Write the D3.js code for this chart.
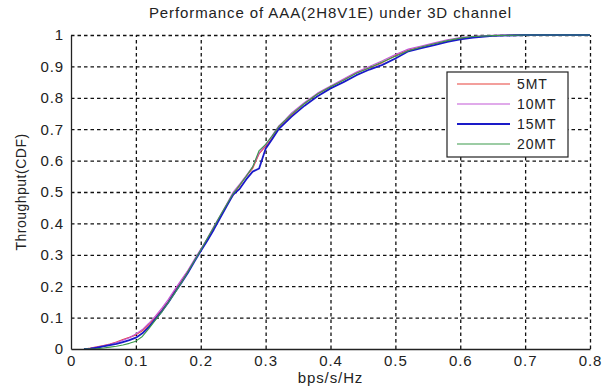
<!DOCTYPE html>
<html>
<head>
<meta charset="utf-8">
<script src="https://cdn.jsdelivr.net/npm/d3@7"></script>
<style>
  body { margin: 0; background: #fff; }
  text { font-family: "Liberation Sans", Arial, sans-serif; letter-spacing: 0.9px; }
  .grid line { stroke: #111; stroke-width: 1.3; stroke-dasharray: 3.5,3; }
  .grid .domain { display: none; }
  .axis text { font-size: 15px; fill: #222; }
  .axis .domain { stroke: #222; stroke-width: 1.3; }
</style>
</head>
<body>
<svg id="chart" width="610" height="386"></svg>
<script>
// x samples (bps/s/Hz) and CDF per series
var xs = [0.02, 0.03, 0.04, 0.05, 0.06, 0.07, 0.08, 0.09, 0.10, 0.11, 0.12, 0.13, 0.14, 0.15, 0.16, 0.17, 0.18, 0.19,
          0.20, 0.21, 0.22, 0.23, 0.24, 0.25, 0.26, 0.27, 0.28, 0.29, 0.30, 0.31, 0.32, 0.33, 0.34, 0.36, 0.38,
          0.40, 0.42, 0.44, 0.46, 0.48, 0.50, 0.52, 0.54, 0.56, 0.58, 0.60, 0.62, 0.65, 0.70, 0.80];

var cdf5 = [0, 0.003, 0.007, 0.011, 0.016, 0.022, 0.03, 0.037, 0.045, 0.058, 0.078, 0.1, 0.125, 0.152, 0.185, 0.215,
            0.248, 0.28, 0.315, 0.35, 0.385, 0.42, 0.46, 0.49, 0.52, 0.55, 0.575, 0.622, 0.645, 0.672, 0.705, 0.725,
            0.745, 0.782, 0.812, 0.835, 0.857, 0.88, 0.895, 0.912, 0.935, 0.952, 0.962, 0.972, 0.98, 0.988, 0.993,
            0.998, 1, 1];
var cdf10 = [0, 0.002, 0.006, 0.01, 0.015, 0.021, 0.028, 0.036, 0.048, 0.062, 0.082, 0.105, 0.13, 0.158, 0.19, 0.22,
             0.25, 0.285, 0.318, 0.352, 0.39, 0.425, 0.462, 0.5, 0.525, 0.552, 0.58, 0.625, 0.65, 0.68, 0.71, 0.73,
             0.752, 0.785, 0.815, 0.838, 0.86, 0.882, 0.9, 0.918, 0.938, 0.955, 0.965, 0.975, 0.985, 0.992, 0.996,
             0.999, 1, 1];
var cdf15 = [0, 0.001, 0.004, 0.008, 0.012, 0.016, 0.022, 0.028, 0.036, 0.05, 0.07, 0.095, 0.12, 0.148, 0.18, 0.21,
             0.242, 0.278, 0.312, 0.345, 0.38, 0.418, 0.455, 0.492, 0.51, 0.54, 0.565, 0.575, 0.638, 0.668, 0.7, 0.72,
             0.74, 0.775, 0.805, 0.83, 0.85, 0.872, 0.89, 0.905, 0.925, 0.948, 0.958, 0.968, 0.978, 0.986, 0.992,
             0.997, 1, 1];
var cdf20 = [0, 0, 0.001, 0.003, 0.006, 0.009, 0.013, 0.018, 0.025, 0.04, 0.065, 0.092, 0.118, 0.148, 0.178, 0.21,
             0.245, 0.28, 0.315, 0.352, 0.388, 0.425, 0.46, 0.495, 0.522, 0.55, 0.58, 0.632, 0.652, 0.678, 0.708, 0.728,
             0.748, 0.782, 0.812, 0.835, 0.856, 0.878, 0.896, 0.914, 0.932, 0.95, 0.962, 0.972, 0.982, 0.99, 0.995,
             0.998, 1, 1];

var seriesNames = ["5MT", "10MT", "15MT", "20MT"];
var seriesData = [cdf5, cdf10, cdf15, cdf20];
var xTicks = [0, 0.1, 0.2, 0.3, 0.4, 0.5, 0.6, 0.7, 0.8];
var yTicks = [0, 0.1, 0.2, 0.3, 0.4, 0.5, 0.6, 0.7, 0.8, 0.9, 1];

var colors = ["#e8413a", "#c257d6", "#1a1ac8", "#3a9a4a"];
var widths = [1.1, 1.1, 1.8, 1.1];

var margin = {top: 35, right: 20, bottom: 37, left: 71};

var svg = d3.select("#chart"),
    width = +svg.attr("width") - margin.left - margin.right,
    height = +svg.attr("height") - margin.top - margin.bottom,
    g = svg.append("g").attr("transform", "translate(" + margin.left + "," + margin.top + ")");

var x = d3.scaleLinear().domain([0, 0.8]).range([0, width]);
var y = d3.scaleLinear().domain([0, 1]).range([height, 0]);

// grid
g.append("g")
    .attr("class", "grid")
    .call(d3.axisLeft(y).tickValues(yTicks.slice(1)).tickSize(-width).tickFormat(""));
g.append("g")
    .attr("class", "grid")
    .attr("transform", "translate(0," + height + ")")
    .call(d3.axisBottom(x).tickValues(xTicks.slice(1)).tickSize(-height).tickFormat(""));

// curves
var line = d3.line()
    .x(function(d, i) { return x(xs[i]); })
    .y(function(d) { return y(d); });

g.selectAll(".curve")
    .data(seriesData)
    .enter().append("path")
      .attr("class", "curve")
      .attr("fill", "none")
      .attr("stroke", function(d, i) { return colors[i]; })
      .attr("stroke-width", function(d, i) { return widths[i]; })
      .attr("stroke-linejoin", "round")
      .attr("d", line);

// axes
g.append("g")
    .attr("class", "axis")
    .attr("transform", "translate(0," + height + ")")
    .call(d3.axisBottom(x).tickValues(xTicks).tickSize(0).tickPadding(6)
      .tickFormat(function(d) { return d === 0 ? "0" : d3.format(".1f")(d); }));

g.append("g")
    .attr("class", "axis")
    .call(d3.axisLeft(y).tickValues(yTicks).tickSize(0).tickPadding(7)
      .tickFormat(function(d) { return (d === 0 || d === 1) ? d : d3.format(".1f")(d); }));

svg.append("text")
    .attr("x", margin.left + width / 2)
    .attr("y", 18)
    .attr("text-anchor", "middle")
    .attr("font-size", 15)
    .attr("fill", "#222")
    .text("Performance of AAA(2H8V1E) under 3D channel");

svg.append("text")
    .attr("x", margin.left + width / 2)
    .attr("y", 383)
    .attr("text-anchor", "middle")
    .attr("font-size", 15)
    .attr("fill", "#222")
    .text("bps/s/Hz");

svg.append("text")
    .attr("transform", "translate(26," + (margin.top + height / 2) + ") rotate(-90)")
    .attr("text-anchor", "middle")
    .attr("font-size", 14)
    .attr("fill", "#222")
    .style("letter-spacing", "0.5px")
    .text("Throughput(CDF)");

// legend
var legend = svg.append("g").attr("transform", "translate(447,72)");

legend.append("rect")
    .attr("width", 121)
    .attr("height", 85)
    .attr("fill", "#fff")
    .attr("stroke", "#222")
    .attr("stroke-width", 1.2);

var item = legend.selectAll(".item")
    .data(seriesNames)
    .enter().append("g")
      .attr("class", "item")
      .attr("transform", function(d, i) { return "translate(0," + (12 + i * 20) + ")"; });

item.append("line")
    .attr("x1", 10)
    .attr("x2", 63)
    .attr("stroke", function(d, i) { return colors[i]; })
    .attr("stroke-width", function(d, i) { return widths[i]; });

item.append("text")
    .attr("x", 70)
    .attr("dy", "0.35em")
    .attr("font-size", 14)
    .attr("fill", "#222")
    .text(function(d) { return d; });
</script>
</body>
</html>
